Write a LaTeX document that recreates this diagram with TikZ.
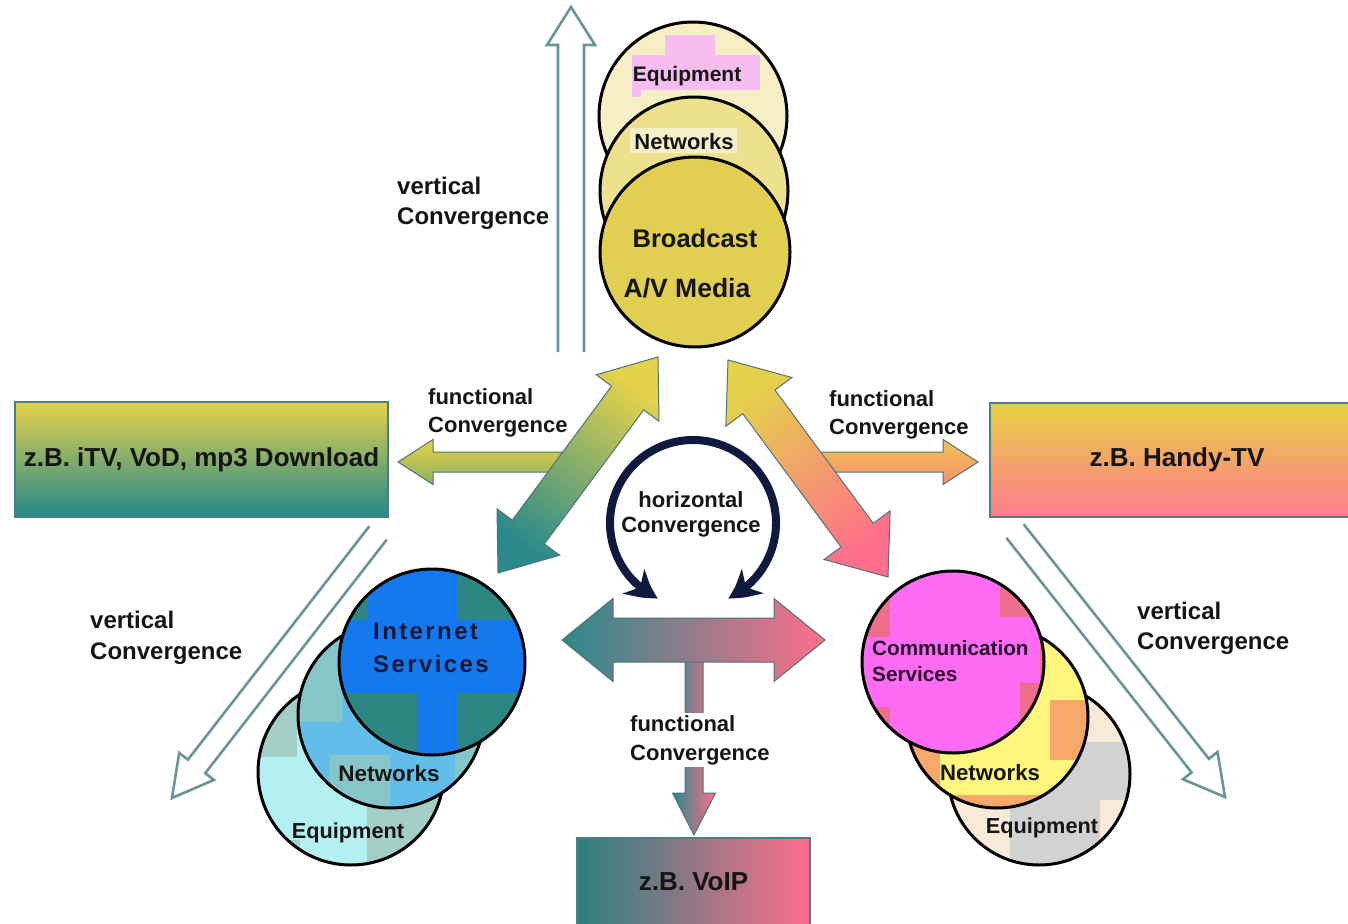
\documentclass[tikz,border=0pt]{standalone}
\usepackage{fontspec}
\setmainfont{Liberation Sans}
\usetikzlibrary{calc,arrows.meta,bending}

\definecolor{yel}{HTML}{E4D24A}
\definecolor{tealc}{HTML}{2A8A8A}
\definecolor{pinkc}{HTML}{FF6E8A}
\definecolor{olivec}{HTML}{8EB060}
\definecolor{yelor}{HTML}{F0C452}
\definecolor{salmc}{HTML}{F7906E}
\definecolor{navyc}{HTML}{0E1A40}
\definecolor{hollowc}{HTML}{6A9595}
\definecolor{edgec}{HTML}{4E747A}
\definecolor{boxedge}{HTML}{4E7E84}
\definecolor{txt}{HTML}{151515}
\definecolor{boxLb}{HTML}{23888C}
\definecolor{boxRt}{HTML}{E6D040}
\definecolor{boxRb}{HTML}{FF7A90}
\definecolor{boxBl}{HTML}{2A8080}
\definecolor{boxBr}{HTML}{FF6E8A}
\definecolor{eqTc}{HTML}{F6EEC4}
\definecolor{pinkpatch}{HTML}{F5BDF0}
\definecolor{nwTc}{HTML}{EDE18E}
\definecolor{nwTpatch}{HTML}{F6F0C8}
\definecolor{bcc}{HTML}{E1CF52}
\definecolor{eqLc}{HTML}{B4F0F2}
\definecolor{eqLp}{HTML}{A2CEC6}
\definecolor{nwLc}{HTML}{62BDE8}
\definecolor{nwLp}{HTML}{86C6C8}
\definecolor{inTeal}{HTML}{2E8682}
\definecolor{inBlue}{HTML}{1479EE}
\definecolor{eqRc}{HTML}{F8EAD8}
\definecolor{eqRp}{HTML}{D2D2D2}
\definecolor{nwRc}{HTML}{FFF47C}
\definecolor{nwRp}{HTML}{F5A86A}
\definecolor{coSalm}{HTML}{EE6E8E}
\definecolor{coMag}{HTML}{FF6BF3}
\definecolor{inTxt}{HTML}{14183C}
\definecolor{coTxt}{HTML}{280A2D}

\newcommand{\fsz}[2]{\fontsize{#1}{#2}\selectfont\bfseries}

% block arrow: style, tail, tip, shaft half width, head half width, head length
\newcommand{\blockarrow}[6]{%
  \coordinate (ba-P) at ($(#3)!#6!(#2)$);
  \path[#1] ($(#2)!#4!-90:(#3)$) -- ($(ba-P)!#4!90:(#2)$) -- ($(ba-P)!#5!90:(#2)$) -- (#3)
    -- ($(ba-P)!#5!-90:(#2)$) -- ($(ba-P)!#4!-90:(#2)$) -- ($(#2)!#4!90:(#3)$) -- cycle;}
% hollow arrow with open tail
\newcommand{\hollowarrow}[6]{%
  \coordinate (ha-P) at ($(#3)!#6!(#2)$);
  \path[#1] ($(#2)!#4!-90:(#3)$) -- ($(ha-P)!#4!90:(#2)$) -- ($(ha-P)!#5!90:(#2)$) -- (#3)
    -- ($(ha-P)!#5!-90:(#2)$) -- ($(ha-P)!#4!-90:(#2)$) -- ($(#2)!#4!90:(#3)$);}
% double block arrow: style, end A, end B, shaft half width, head half width, head length
\newcommand{\dblarrow}[6]{%
  \coordinate (da-P) at ($(#2)!#6!(#3)$);
  \coordinate (da-Q) at ($(#3)!#6!(#2)$);
  \path[#1] (#2) -- ($(da-P)!#5!90:(#3)$) -- ($(da-P)!#4!90:(#3)$) -- ($(da-Q)!#4!-90:(#2)$)
    -- ($(da-Q)!#5!-90:(#2)$) -- (#3) -- ($(da-Q)!#5!90:(#2)$) -- ($(da-Q)!#4!90:(#2)$)
    -- ($(da-P)!#4!-90:(#3)$) -- ($(da-P)!#5!-90:(#3)$) -- cycle;}

\begin{document}
\begin{tikzpicture}[x=1pt,y=-1pt,
  hollow/.style={draw=hollowc, line width=2.6pt, line join=miter},
  blk/.style={draw=edgec, line width=1pt, line join=miter},
  circ/.style={draw=black, line width=3pt},
  lab/.style={text=txt, align=left, inner sep=0pt, anchor=west},
  ctext/.style={text=txt, inner sep=0pt, anchor=center},
  boxn/.style={draw=boxedge, line width=2pt, text=txt, font={\fsz{26}{30}}, inner sep=0pt}]

\useasboundingbox (0,0) rectangle (1348,923);
\fill[white] (0,0) rectangle (1348,923);

% ---------- vertical convergence hollow arrows ----------
\coordinate (vu-a) at (571,352); \coordinate (vu-b) at (571,7);
\hollowarrow{hollow}{vu-a}{vu-b}{13pt}{24pt}{38pt}
\coordinate (vl-a) at (378,533); \coordinate (vl-b) at (172,798);
\hollowarrow{hollow}{vl-a}{vl-b}{11pt}{22pt}{40pt}
\coordinate (vr-a) at (1015,531); \coordinate (vr-b) at (1225,797);
\hollowarrow{hollow}{vr-a}{vr-b}{11pt}{22pt}{40pt}

% ---------- functional arrows to the side boxes ----------
\coordinate (fl-a) at (570,462); \coordinate (fl-b) at (398,462);
\blockarrow{blk, top color=yel, bottom color=olivec}{fl-a}{fl-b}{10pt}{22.5pt}{35pt}
\coordinate (fr-a) at (815,462); \coordinate (fr-b) at (978,462);
\blockarrow{blk, top color=yelor, bottom color=salmc}{fr-a}{fr-b}{10pt}{22.5pt}{35pt}

% ---------- diagonal double arrows ----------
\coordinate (dl-a) at (498,573); \coordinate (dl-b) at (658,357);
\dblarrow{blk, top color=yel, bottom color=tealc, shading angle=-36}{dl-a}{dl-b}{20pt}{39pt}{51pt}
\coordinate (dr-a) at (728,360); \coordinate (dr-b) at (888,577);
\dblarrow{blk, top color=yel, bottom color=pinkc, shading angle=36}{dr-a}{dr-b}{20pt}{41pt}{52pt}

% ---------- bottom arrows ----------
\coordinate (vs-a) at (694,655); \coordinate (vs-b) at (694,835);
\blockarrow{blk, left color=tealc, right color=pinkc}{vs-a}{vs-b}{9pt}{21.5pt}{42pt}
\coordinate (hb-a) at (562,640); \coordinate (hb-b) at (825,640);
\dblarrow{blk, left color=tealc, right color=pinkc}{hb-a}{hb-b}{22pt}{41.5pt}{51pt}

% ---------- horizontal convergence circular arrow ----------
\coordinate (hc) at (693,523);
\draw[navyc, line width=8pt,
  {Stealth[length=30pt,width=32pt,inset=9pt,bend]}-{Stealth[length=30pt,width=32pt,inset=9pt,bend]}]
  (hc) ++(115:83) arc[start angle=115, end angle=425, radius=83];

% ---------- boxes ----------
\node[boxn, top color=yel, bottom color=boxLb,
  minimum width=373pt, minimum height=115pt] (boxL) at (201.5,459.5) {z.B. iTV, VoD, mp3 Download};
\node[boxn, top color=boxRt, bottom color=boxRb,
  minimum width=374pt, minimum height=114pt] (boxR) at (1177,460) {z.B. Handy-TV};
\node[boxn, left color=boxBl, right color=boxBr,
  minimum width=233pt, minimum height=88pt] (boxB) at (693.5,882) {z.B. VoIP};

% ---------- top circles (Broadcast) ----------
\coordinate (eqT) at (693,116);
\coordinate (nwT) at (694,191);
\coordinate (bcT) at (695,252);
\begin{scope}
  \clip (eqT) circle (94);
  \fill[eqTc] (eqT) circle (94);
  \fill[pinkpatch] (665,35) rectangle (715,55);
  \fill[pinkpatch] (632,55) rectangle (760,90);
  \fill[pinkpatch] (632,90) rectangle (641,97);
\end{scope}
\draw[circ] (eqT) circle (94);
\begin{scope}
  \clip (nwT) circle (94);
  \fill[nwTc] (nwT) circle (94);
  \fill[nwTpatch] (630,128) rectangle (737,153);
\end{scope}
\draw[circ] (nwT) circle (94);
\fill[bcc] (bcT) circle (95);
\draw[circ] (bcT) circle (95);

% ---------- lower left circles (Internet) ----------
\coordinate (eqL) at (351,772);
\coordinate (nwL) at (391,715);
\coordinate (inL) at (432,662);
\begin{scope}
  \clip (eqL) circle (93);
  \fill[eqLc] (eqL) circle (93);
  \fill[eqLp] (250,690) rectangle (297,757);
  \fill[eqLp] (367,797) rectangle (450,870);
  \fill[eqLp] (250,840) rectangle (300,870);
\end{scope}
\draw[circ] (eqL) circle (93);
\begin{scope}
  \clip (nwL) circle (93);
  \fill[nwLc] (nwL) circle (93);
  \fill[nwLp] (295,640) rectangle (342,722);
  \fill[nwLp] (330,755) rectangle (390,810);
  \fill[nwLp] (455,745) rectangle (490,810);
\end{scope}
\draw[circ] (nwL) circle (93);
\begin{scope}
  \clip (inL) circle (93);
  \fill[inTeal] (inL) circle (93);
  \fill[inBlue] (367,560) rectangle (457,620);
  \fill[inBlue] (330,620) rectangle (540,693);
  \fill[inBlue] (417,693) rectangle (457,760);
\end{scope}
\draw[circ] (inL) circle (93);

% ---------- lower right circles (Communication) ----------
\coordinate (eqR) at (1039,774);
\coordinate (nwR) at (997,717);
\coordinate (coR) at (953,662);
\begin{scope}
  \clip (eqR) circle (91);
  \fill[eqRc] (eqR) circle (91);
  \fill[eqRp] (1040,742) rectangle (1135,800);
  \fill[eqRp] (1010,800) rectangle (1100,870);
\end{scope}
\draw[circ] (eqR) circle (91);
\begin{scope}
  \clip (nwR) circle (91);
  \fill[nwRc] (nwR) circle (91);
  \fill[nwRp] (900,730) rectangle (940,810);
  \fill[nwRp] (940,795) rectangle (1050,812);
  \fill[nwRp] (1050,700) rectangle (1095,760);
\end{scope}
\draw[circ] (nwR) circle (91);
\begin{scope}
  \clip (coR) circle (91);
  \fill[coSalm] (coR) circle (91);
  \fill[coMag] (890,560) rectangle (1000,760);
  \fill[coMag] (860,637) rectangle (1020,707);
  \fill[coMag] (1000,617) rectangle (1040,683);
  \fill[coMag] (917,707) rectangle (1020,760);
\end{scope}
\draw[circ] (coR) circle (91);

% ---------- circle texts ----------
\node[ctext, font={\fsz{21}{24}}] (tEqT) at (687,76) {Equipment};
\node[ctext, font={\fsz{22}{24}}] (tNwT) at (684,142) {Networks};
\node[ctext, font={\fsz{25.5}{28}}] (tBc) at (695,238) {Broadcast};
\node[ctext, font={\fsz{26.5}{28}}] (tAV) at (687,288) {A/V Media};

\node[lab, text=inTxt, font={\fsz{24}{33}\addfontfeatures{LetterSpace=10}}] (tIn) at (373,648) {Internet\\Services};
\node[ctext, font={\fsz{22.5}{24}}] (tNwL) at (389,773) {Networks};
\node[ctext, font={\fsz{21.7}{24}}] (tEqL) at (348,833) {Equipment};

\node[lab, text=coTxt, font={\fsz{20.7}{26}}] (tCo) at (872,661) {Communication\\Services};
\node[ctext, font={\fsz{22.2}{24}}] (tNwR) at (990,773) {Networks};
\node[ctext, font={\fsz{21.7}{24}}] (tEqR) at (1042,828) {Equipment};

% ---------- convergence labels ----------
\node[lab, font={\fsz{24}{30}}] (lvU) at (397,203.5) {vertical\\Convergence};
\node[lab, font={\fsz{24}{31}}] (lvL) at (90,638) {vertical\\Convergence};
\node[lab, font={\fsz{24}{30}}] (lvR) at (1137,628.5) {vertical\\Convergence};
\node[lab, font={\fsz{22}{28}}] (lfL) at (428,413) {functional\\Convergence};
\node[lab, font={\fsz{22}{28}}] (lfR) at (829,415) {functional\\Convergence};
\node[lab, font={\fsz{22}{29}}, fill=white, inner sep=2pt] (lfB) at (628,740) {functional\\Convergence};
\node[ctext, align=center, font={\fsz{22}{25}}] (lh) at (691,514.5) {horizontal\\Convergence};

\end{tikzpicture}
\end{document}
